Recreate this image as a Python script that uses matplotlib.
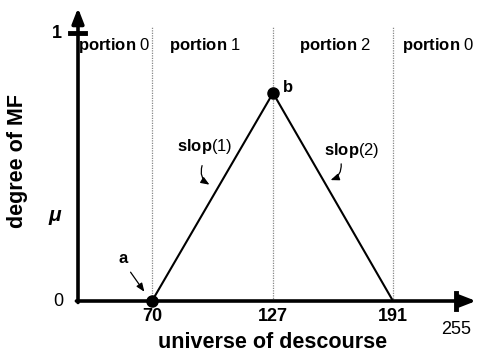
import numpy as np
import matplotlib
matplotlib.use("agg")
import matplotlib.pyplot as plt

plt.rcParams['font.family'] = ['Liberation Sans', 'DejaVu Sans']
plt.rcParams['mathtext.fontset'] = 'custom'
plt.rcParams['mathtext.rm'] = 'Liberation Sans'
plt.rcParams['mathtext.bf'] = 'Liberation Sans:bold'
plt.rcParams['mathtext.it'] = 'Liberation Sans:italic:bold'

# triangular membership function
mf_x = [70, 127, 191]
mf_y = [0, 0.776, 0]
point_x = [70, 127]
point_y = [0, 0.776]
point_names = ['a', 'b']
borders = [70, 127, 191]
tick_vals = [70, 127, 191]
portions = ['0', '1', '2', '0']

# schematic (not linear) x axis: break points and where they are drawn
brk_data = np.array([0, 70, 127, 191, 255], dtype=float)
brk_pos = np.array([0, 74, 195, 315, 378], dtype=float)


def fwd(x):
    x = np.asarray(x, dtype=float)
    lo = brk_pos[0] + (x - brk_data[0]) * (brk_pos[1] - brk_pos[0]) / (brk_data[1] - brk_data[0])
    hi = brk_pos[-1] + (x - brk_data[-1]) * (brk_pos[-1] - brk_pos[-2]) / (brk_data[-1] - brk_data[-2])
    mid = np.interp(x, brk_data, brk_pos)
    return np.where(x < brk_data[0], lo, np.where(x > brk_data[-1], hi, mid))


def inv(p):
    p = np.asarray(p, dtype=float)
    lo = brk_data[0] + (p - brk_pos[0]) * (brk_data[1] - brk_data[0]) / (brk_pos[1] - brk_pos[0])
    hi = brk_data[-1] + (p - brk_pos[-1]) * (brk_data[-1] - brk_data[-2]) / (brk_pos[-1] - brk_pos[-2])
    mid = np.interp(p, brk_pos, brk_data)
    return np.where(p < brk_pos[0], lo, np.where(p > brk_pos[-1], hi, mid))


fig = plt.figure(figsize=(4.79, 3.56), dpi=100)
ax = fig.add_axes([78 / 479, 55 / 356, 398 / 479, 293 / 356])
ax.set_xscale('function', functions=(fwd, inv))
ax.set_xlim(0, float(inv(398)))
ax.set_ylim(0, 293 / 268)
for s in ax.spines.values():
    s.set_visible(False)
ax.set_xticks([])
ax.set_yticks([])

# axes with arrows
arr = dict(arrowstyle='-|>,head_length=0.9,head_width=0.35', color='black', lw=2.6, shrinkA=0, shrinkB=0)
ax.annotate('', xy=(1.0, 0), xytext=(-0.004, 0), xycoords='axes fraction', arrowprops=arr)
ax.annotate('', xy=(0, 1.0), xytext=(0, -0.005), xycoords='axes fraction', arrowprops=arr)
ax.axhline(1, xmin=-0.02, xmax=0.018, color='black', lw=3.5, clip_on=False)
ax.axvline(255, ymin=-0.027, ymax=0.026, color='black', lw=3.5, clip_on=False)

# portion borders
for b in borders:
    ax.plot([b, b], [0, 1.022], color='#888888', lw=0.9, ls=(0, (1, 1)))

ax.plot(mf_x, mf_y, color='black', lw=1.5)
ax.plot(point_x, point_y, 'o', color='black', ms=8, clip_on=False, zorder=5)

# labels on the axes
for v in tick_vals:
    ax.text(v, -0.058, str(v), ha='center', va='center', fontsize=13, fontweight='bold')
ax.text(255, -0.105, '255', ha='center', va='center', fontsize=13)
ytr = ax.get_yaxis_transform()
ax.text(-0.053, 1.0, '1', transform=ytr, ha='center', va='center', fontsize=13, fontweight='bold')
ax.text(-0.05, 0.0, '0', transform=ytr, ha='center', va='center', fontsize=13)
ax.text(-0.058, 0.31, r'$\mathit{\mu}$', transform=ytr, ha='center', va='center', fontsize=15)

# portion names
for xp, name in zip([34, 95, 160, 237], portions):
    ax.text(xp, 0.955, r'$\mathbf{portion}$ ' + name, ha='center', va='center', fontsize=12)

# point names and arrows
ax.text(42.5, 0.16, 'a', ha='center', va='center', fontsize=12, fontweight='bold')
ax.annotate('', xy=(64.3, 0.026), xytext=(48.2, 0.116),
            arrowprops=dict(arrowstyle='-|>,head_length=0.5,head_width=0.2', color='black', lw=0.9))
ax.text(135, 0.795, 'b', ha='center', va='center', fontsize=12, fontweight='bold')

ax.text(95, 0.575, r'$\mathbf{slop}$(1)', ha='center', va='center', fontsize=12)
ax.annotate('', xy=(98.2, 0.429), xytext=(94.0, 0.515),
            arrowprops=dict(arrowstyle='-|>,head_length=0.5,head_width=0.2', color='black', lw=0.9,
                            connectionstyle='arc3,rad=0.45'))
ax.text(169, 0.563, r'$\mathbf{slop}$(2)', ha='center', va='center', fontsize=12)
ax.annotate('', xy=(156.3, 0.448), xytext=(163.2, 0.522),
            arrowprops=dict(arrowstyle='-|>,head_length=0.5,head_width=0.2', color='black', lw=0.9,
                            connectionstyle='arc3,rad=-0.45'))

fig.text(273 / 479, 1 - 343 / 356, 'universe of descourse', ha='center', va='center',
         fontsize=15.5, fontweight='bold')
fig.text(18 / 479, 1 - 161 / 356, 'degree of MF', ha='center', va='center', rotation=90,
         fontsize=15.5, fontweight='bold')

plt.savefig('out.png', dpi=100)
